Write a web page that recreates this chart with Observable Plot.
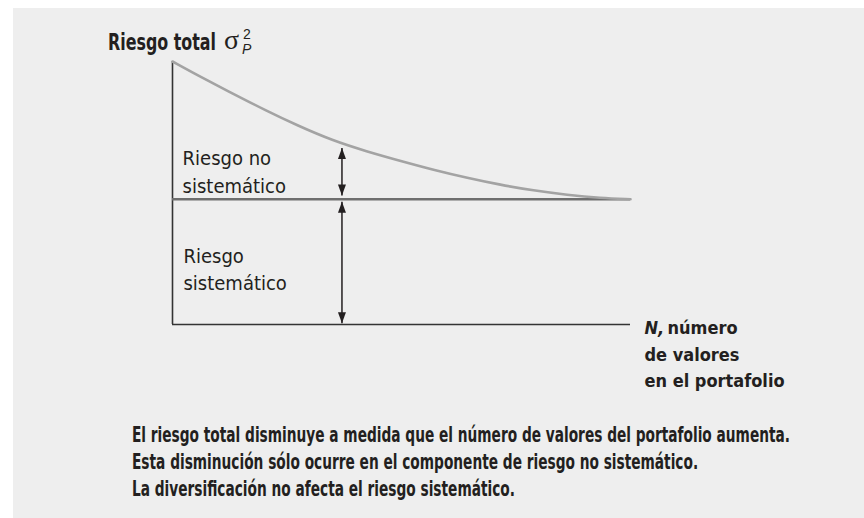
<!DOCTYPE html>
<html>
<head>
<meta charset="utf-8">
<script src="https://cdn.jsdelivr.net/npm/d3@7"></script>
<script src="https://cdn.jsdelivr.net/npm/@observablehq/plot@0.6"></script>
<style>
  html, body { margin: 0; padding: 0; background: #ffffff; width: 864px; height: 518px; overflow: hidden; }
  #panel { position: absolute; left: 13px; top: 8px; width: 851px; height: 510px; background: #eeeeee; }
  .cond { font-family: "Liberation Sans Narrow", "DejaVu Sans Condensed", "Roboto Condensed", Roboto, sans-serif; font-stretch: condensed; }
  .fit { display: inline-block; transform-origin: 0 50%; white-space: nowrap; }
  #title { position: absolute; left: 108px; top: 29px; font-size: 23px; font-weight: bold; color: #231f20; white-space: nowrap; line-height: 26px; }
  #sigma { position: absolute; left: 224px; top: 25px; font-family: "Liberation Serif", "DejaVu Serif", serif; font-size: 28px; line-height: 30px; color: #231f20; }
  #sup2 { position: absolute; left: 243px; top: 27px; font-family: "Liberation Sans", sans-serif; font-size: 14px; line-height: 14px; color: #231f20; }
  #subP { position: absolute; left: 242px; top: 42px; font-family: "Liberation Sans", sans-serif; font-style: italic; font-size: 14px; line-height: 14px; color: #231f20; }
  #chart { position: absolute; left: 0; top: 0; }
  #caption { position: absolute; left: 132px; top: 422px; font-size: 21px; font-weight: bold; color: #231f20; line-height: 27px; white-space: nowrap; }
  #caption div { height: 27px; }
</style>
</head>
<body>
<div id="panel"></div>
<div id="title" class="cond"><span class="fit" id="titleText">Riesgo total</span></div>
<div id="sigma">σ</div><div id="sup2">2</div><div id="subP">P</div>
<div id="chart"></div>
<div id="caption" class="cond"></div>
<script>
// ---- Data ----
const curveN = [0, 5.7, 13.1, 20.3, 27.5, 34.9, 42.1, 50.9, 57.0, 64.4, 71.6, 78.8, 86.2, 93.4, 100];
const totalRisk = [2.10, 1.985, 1.845, 1.71, 1.585, 1.47, 1.385, 1.295, 1.235, 1.17, 1.115, 1.07, 1.035, 1.01, 1.00];
const systematicRisk = 1.0;
const axisNMax = 100;
const axisRiskMax = 2.1;

// arrows (x position, lower tip, upper tip)
const arrowN = [37, 37];
const arrowFrom = [1.03, 0.01];
const arrowTo = [1.41, 0.98];

// in-chart labels
const labelText = ["Riesgo no\nsistemático", "Riesgo\nsistemático"];
const labelN = [2.2, 2.4];
const labelRisk = [1.43, 0.65];

const xLabelLines = ["N,", "número", "de valores\nen el portafolio"];

const captionLines = [
  "El riesgo total disminuye a medida que el número de valores del portafolio aumenta.",
  "Esta disminución sólo ocurre en el componente de riesgo no sistemático.",
  "La diversificación no afecta el riesgo sistemático."
];

// ---- Build tables ----
const curve = curveN.map((n, i) => ({n, risk: totalRisk[i]}));
const arrows = arrowN.map((n, i) => ({n, y1: arrowFrom[i], y2: arrowTo[i]}));
const labels = labelText.map((t, i) => ({t, n: labelN[i], risk: labelRisk[i]}));

const headUp = {draw(ctx) { ctx.moveTo(0, 0); ctx.lineTo(-4, 11); ctx.lineTo(4, 11); ctx.closePath(); }};
const headDown = {draw(ctx) { ctx.moveTo(0, 0); ctx.lineTo(-4, -11); ctx.lineTo(4, -11); ctx.closePath(); }};

const FONT = '"Liberation Sans Narrow", "DejaVu Sans Condensed", "Roboto Condensed", Roboto, sans-serif';

const chart = Plot.plot({
  width: 864,
  height: 400,
  marginLeft: 172,
  marginRight: 234,
  marginTop: 61,
  marginBottom: 76,
  style: {background: "transparent", fontFamily: FONT, overflow: "visible"},
  x: {domain: [0, axisNMax], axis: null},
  y: {domain: [0, axisRiskMax], axis: null},
  marks: [
    // axes
    Plot.ruleX([0], {y1: 0, y2: axisRiskMax, stroke: "#333333", strokeWidth: 1.6}),
    Plot.ruleY([0], {x1: 0, x2: axisNMax, stroke: "#333333", strokeWidth: 1.6}),
    // systematic risk line
    Plot.ruleY([systematicRisk], {x1: 0, x2: axisNMax, stroke: "#6e6e6e", strokeWidth: 2.6}),
    // total risk curve
    Plot.line(curve, {x: "n", y: "risk", curve: "basis", stroke: "#a3a3a3", strokeWidth: 2.6}),
    // arrows
    Plot.link(arrows, {x1: "n", x2: "n", y1: "y1", y2: "y2", stroke: "#231f20", strokeWidth: 1.5}),
    Plot.dot(arrows, {x: "n", y: "y2", symbol: headUp, fill: "#231f20", stroke: "none"}),
    Plot.dot(arrows, {x: "n", y: "y1", symbol: headDown, fill: "#231f20", stroke: "none"}),
    // labels
    Plot.text(labels, {x: "n", y: "risk", text: "t", textAnchor: "start", lineAnchor: "top", lineHeight: 1.38, fontSize: 20, fill: "#231f20"}),
    // x axis label
    Plot.text([xLabelLines[0]], {x: axisNMax, y: 0, text: d => d, textAnchor: "start", lineAnchor: "middle", dx: 14, dy: 4, fontSize: 18, fontWeight: "bold", fontStyle: "italic", fill: "#231f20"}),
    Plot.text([xLabelLines[1]], {x: axisNMax, y: 0, text: d => d, textAnchor: "start", lineAnchor: "middle", dx: 37, dy: 4, fontSize: 18, fontWeight: "bold", fill: "#231f20"}),
    Plot.text([xLabelLines[2]], {x: axisNMax, y: 0, text: d => d, textAnchor: "start", lineAnchor: "top", dx: 14, dy: 18, lineHeight: 1.45, fontSize: 18, fontWeight: "bold", fill: "#231f20"})
  ]
});
document.getElementById("chart").appendChild(chart);

const cap = document.getElementById("caption");
captionLines.forEach(l => {
  const d = document.createElement("div");
  const s = document.createElement("span");
  s.className = "fit";
  s.textContent = l;
  d.appendChild(s);
  cap.appendChild(d);
});

// horizontally fit condensed text to the widths measured on the reference
function fitTo(el, target) {
  const w = el.getBoundingClientRect().width;
  if (w > 0) el.style.transform = `scaleX(${target / w})`;
}
const capSpans = cap.querySelectorAll(".fit");
const w0 = capSpans[0].getBoundingClientRect().width;
const k = 658 / w0;
capSpans.forEach(s => s.style.transform = `scaleX(${k})`);
fitTo(document.getElementById("titleText"), 108);
</script>
</body>
</html>
